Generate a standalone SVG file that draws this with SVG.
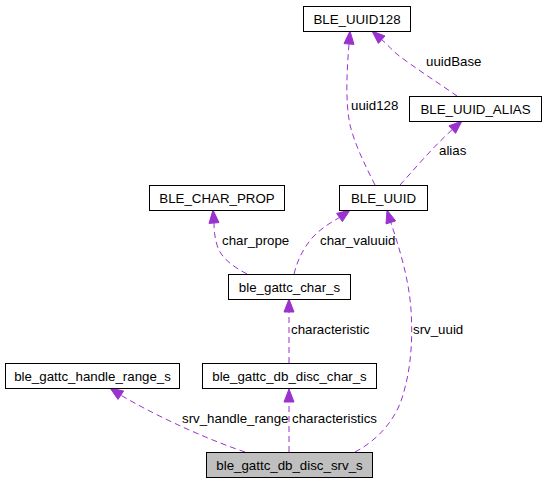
<svg xmlns="http://www.w3.org/2000/svg" width="548" height="484" viewBox="0 0 548 484">
<style>
.box{fill:#ffffff;stroke:#000000;stroke-width:1}
.main{fill:#bfbfbf;stroke:#000000;stroke-width:1}
.nt{font-family:"Liberation Sans",Arial,sans-serif;font-size:13.3px;fill:#000000;text-anchor:middle}
.lt{font-family:"Liberation Sans",Arial,sans-serif;font-size:13.3px;fill:#000000}
.e{fill:none;stroke:#9a32cd;stroke-width:1;stroke-dasharray:6,4}
.ah{fill:#9a32cd;stroke:#9a32cd;stroke-width:1}
</style>
<rect width="548" height="484" fill="#ffffff"/>
<g id="connectors">
  <path class="e" d="M245,452 C215,442 165,421 120.8,395.2"/>
  <polygon class="ah" points="110,388 123.6,391 118,399.4"/>
  <path class="e" d="M289,452 L289,402"/>
  <polygon class="ah" points="289,389 284,402 294,402"/>
  <path class="e" d="M355,452 C378,440 395,420 402,398 C411,370 413,340 411,310 C409,280 400,250 390.8,222.4"/>
  <polygon class="ah" points="387,210 395.6,220.9 386,223.9"/>
  <path class="e" d="M289,363 L289,312"/>
  <polygon class="ah" points="289,299 284,312 294,312"/>
  <path class="e" d="M247,274 C232,266 221,258 217,245 C215,238 214,232 214,223"/>
  <polygon class="ah" points="213,210 219,222.6 209,223.4"/>
  <path class="e" d="M294,274 C297,262 302,250 312,238 C320,229 330,223 339.5,217.5"/>
  <polygon class="ah" points="350,210 342.4,221.6 336.6,213.4"/>
  <path class="e" d="M375,185 C365,165 355,145 350,125 C345,100 347,70 349,44"/>
  <polygon class="ah" points="350,31 354,44.4 344,43.6"/>
  <path class="e" d="M457,96 C440,84 415,68 398,55 C392,50 388,45 381.7,39.7"/>
  <polygon class="ah" points="372,31 385,36 378.4,43.4"/>
  <path class="e" d="M400,185 C412,172 430,150 452.25,129.6"/>
  <polygon class="ah" points="462,121 455.55,133.35 448.95,125.85"/>
  <text class="lt" x="426" y="66">uuidBase</text>
  <text class="lt" x="351" y="110">uuid128</text>
  <text class="lt" x="439" y="155">alias</text>
  <text class="lt" x="222" y="245">char_prope</text>
  <text class="lt" x="320" y="245">char_valuuid</text>
  <text class="lt" x="291" y="334">characteristic</text>
  <text class="lt" x="413" y="334">srv_uuid</text>
  <text class="lt" x="182" y="423">srv_handle_range</text>
  <text class="lt" x="292" y="423">characteristics</text>
</g>
<g id="BLE_UUID128"><rect class="box" x="303.5" y="6.5" width="107" height="25"/><text class="nt" x="357" y="23.5">BLE_UUID128</text></g>
<g id="BLE_UUID_ALIAS"><rect class="box" x="409.5" y="96.5" width="132" height="25"/><text class="nt" x="475.5" y="113.5">BLE_UUID_ALIAS</text></g>
<g id="BLE_UUID"><rect class="box" x="339.5" y="185.5" width="88" height="25"/><text class="nt" x="383.5" y="202.5">BLE_UUID</text></g>
<g id="BLE_CHAR_PROP"><rect class="box" x="149.5" y="185.5" width="135" height="25"/><text class="nt" x="217" y="202.5">BLE_CHAR_PROP</text></g>
<g id="ble_gattc_char_s"><rect class="box" x="228.5" y="274.5" width="122" height="25"/><text class="nt" x="289.5" y="291.5">ble_gattc_char_s</text></g>
<g id="ble_gattc_handle_range_s"><rect class="box" x="5.5" y="363.5" width="174" height="25"/><text class="nt" x="92.5" y="380.5">ble_gattc_handle_range_s</text></g>
<g id="ble_gattc_db_disc_char_s"><rect class="box" x="202.5" y="363.5" width="174" height="25"/><text class="nt" x="289.5" y="380.5">ble_gattc_db_disc_char_s</text></g>
<g id="ble_gattc_db_disc_srv_s"><rect class="main" x="206.5" y="452.5" width="166" height="25"/><text class="nt" x="289.5" y="469.5">ble_gattc_db_disc_srv_s</text></g>
</svg>
